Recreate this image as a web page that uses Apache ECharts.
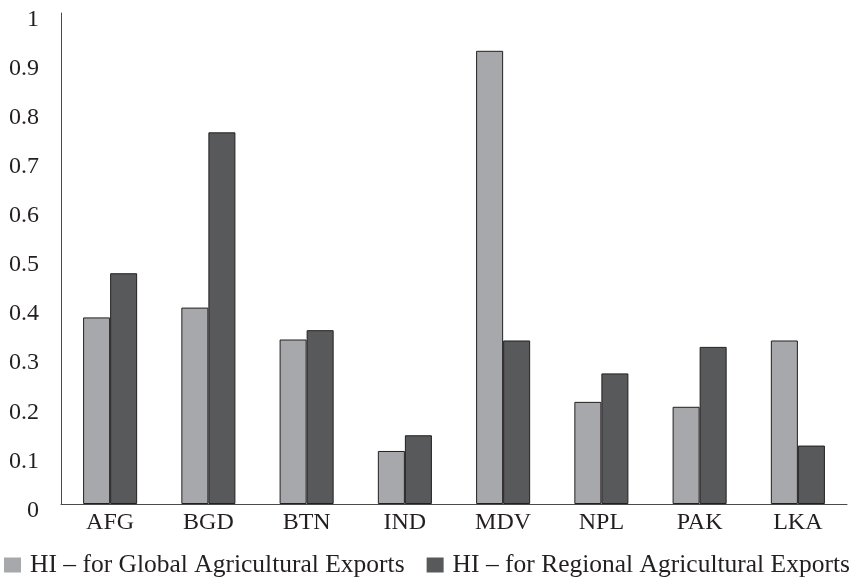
<!DOCTYPE html>
<html>
<head>
<meta charset="utf-8">
<script src="https://cdn.jsdelivr.net/npm/echarts@6/dist/echarts.min.js"></script>
<style>
html,body{margin:0;padding:0;background:#fff;}
#chart{width:856px;height:579px;}
</style>
</head>
<body>
<div id="chart"></div>
<script>
const categories = ['AFG', 'BGD', 'BTN', 'IND', 'MDV', 'NPL', 'PAK', 'LKA'];
const globalValues = [0.38, 0.40, 0.335, 0.108, 0.923, 0.208, 0.198, 0.333];
const regionalValues = [0.47, 0.757, 0.354, 0.14, 0.333, 0.266, 0.32, 0.119];
const seriesNames = ['HI – for Global Agricultural Exports', 'HI – for Regional Agricultural Exports'];
const yTicks = { min: 0, max: 1, interval: 0.1 };

const FONT = '"Liberation Serif", "DejaVu Serif", serif';
const chart = echarts.init(document.getElementById('chart'), null, { renderer: 'canvas' });
chart.setOption({
  backgroundColor: '#ffffff',
  animation: false,
  grid: { left: 61, right: 9, top: 13, bottom: 75, containLabel: false },
  legend: {
    left: 4,
    right: 0,
    bottom: 1,
    padding: 0,
    itemWidth: 17,
    itemHeight: 15,
    itemGap: 22,
    icon: 'rect',
    itemStyle: { borderWidth: 0 },
    textStyle: { fontFamily: FONT, fontSize: 25.5, color: '#231f20', padding: [0, 0, 0, 4] },
    data: seriesNames
  },
  xAxis: {
    type: 'category',
    data: categories,
    axisLine: { show: true, lineStyle: { color: '#4a4a4a', width: 1 } },
    axisTick: { show: false },
    axisLabel: { fontFamily: FONT, fontSize: 24, color: '#231f20', margin: 7 },
    splitLine: { show: false }
  },
  yAxis: {
    type: 'value',
    min: yTicks.min,
    max: yTicks.max,
    interval: yTicks.interval,
    axisLine: { show: true, lineStyle: { color: '#4a4a4a', width: 1 } },
    axisTick: { show: false },
    splitLine: { show: false },
    axisLabel: { fontFamily: FONT, fontSize: 24, color: '#231f20', margin: 22, verticalAlign: 'top', lineHeight: 13 }
  },
  series: [
    {
      name: seriesNames[0],
      type: 'bar',
      data: globalValues,
      barWidth: '27.5%',
      barGap: '0%',
      itemStyle: { color: '#a7a8ab', borderColor: '#231f20', borderWidth: 1 }
    },
    {
      name: seriesNames[1],
      type: 'bar',
      data: regionalValues,
      barWidth: '27.5%',
      barGap: '0%',
      itemStyle: { color: '#58595b', borderColor: '#231f20', borderWidth: 1 }
    }
  ]
});
</script>
</body>
</html>
